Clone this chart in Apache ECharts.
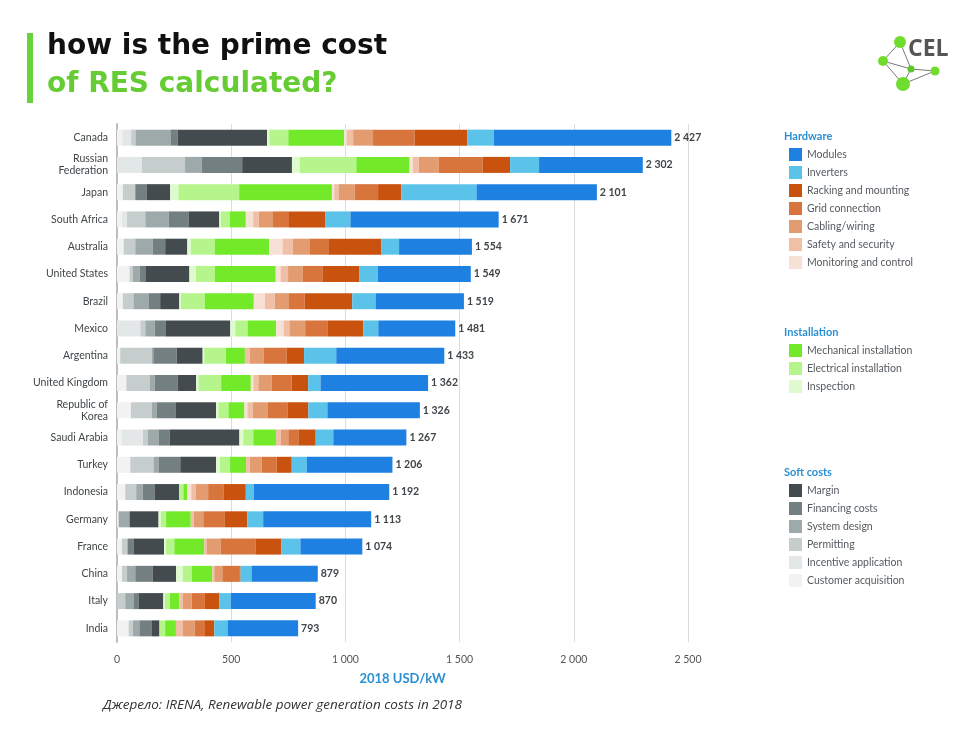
<!DOCTYPE html>
<html>
<head>
<meta charset="utf-8">
<script src="https://cdn.jsdelivr.net/npm/echarts@6/dist/echarts.min.js"></script>
<style>
html,body{margin:0;padding:0;background:#fff;}
#chart{width:980px;height:735px;}
</style>
</head>
<body>
<div id="chart"></div>
<script>
const categories = ['Canada','Russian\nFederation','Japan','South Africa','Australia','United States','Brazil','Mexico','Argentina','United Kingdom','Republic of\nKorea','Saudi Arabia','Turkey','Indonesia','Germany','France','China','Italy','India'];
const totals = [2427,2302,2101,1671,1554,1549,1519,1481,1433,1362,1326,1267,1206,1192,1113,1074,879,870,793];

// Soft costs
const customerAcquisition = [23,0,26,22,29,55,26,0,14,41,61,20,58,36,7,22,22,0,51];
const incentiveApplication = [39,109,0,22,0,0,0,102,0,0,0,94,0,0,0,0,0,0,0];
const permitting = [19,189,54,80,51,15,46,22,138,102,92,20,102,48,0,24,22,36,19];
const systemDesign = [153,73,0,102,77,29,66,41,7,22,22,48,22,28,48,0,36,36,28];
const financingCosts = [32,177,51,87,54,25,51,47,102,100,83,48,95,52,0,26,77,22,55];
const margin = [391,218,102,135,97,193,84,284,114,82,176,306,157,108,127,134,102,109,33];
// Installation
const inspection = [10,34,36,7,16,29,7,22,7,10,10,17,17,0,10,9,29,7,0];
const electricalInstallation = [83,248,266,39,105,83,105,54,95,99,44,44,44,19,23,36,39,22,25];
const mechanicalInstallation = [245,233,406,70,237,266,214,125,83,130,70,99,70,17,108,131,90,41,47];
// Hardware
const monitoringControl = [10,14,10,32,59,21,48,32,0,11,13,0,0,17,0,0,0,0,0];
const safetySecurity = [29,26,21,25,44,33,44,26,22,22,24,21,17,19,14,10,9,15,31];
const cablingWiring = [87,87,69,62,76,63,62,69,61,59,66,33,51,55,41,61,35,39,51];
const gridConnection = [182,192,102,70,80,87,69,97,99,87,87,44,66,69,92,153,77,58,42];
const rackingMounting = [230,121,102,160,233,163,208,157,77,72,90,76,66,96,100,114,3,62,44];
const inverters = [117,127,329,109,77,80,102,66,141,54,83,77,66,35,70,83,48,51,58];
const modules = [777,454,527,649,319,407,387,337,473,471,405,320,375,593,473,271,290,372,309];

const xTicks = [0,500,1000,1500,2000,2500];

const seriesDefs = [
  {name:'Customer acquisition', data:customerAcquisition, color:'#f2f2f2'},
  {name:'Incentive application', data:incentiveApplication, color:'#e4e7e7'},
  {name:'Permitting', data:permitting, color:'#c6cdcd'},
  {name:'System design', data:systemDesign, color:'#9ea9a9'},
  {name:'Financing costs', data:financingCosts, color:'#737f80'},
  {name:'Margin', data:margin, color:'#434b4e'},
  {name:'Inspection', data:inspection, color:'#e0fad0'},
  {name:'Electrical installation', data:electricalInstallation, color:'#b5f58b'},
  {name:'Mechanical installation', data:mechanicalInstallation, color:'#72ea2a'},
  {name:'Monitoring and control', data:monitoringControl, color:'#f7e1d7'},
  {name:'Safety and security', data:safetySecurity, color:'#efc0a6'},
  {name:'Cabling/wiring', data:cablingWiring, color:'#e39b70'},
  {name:'Grid connection', data:gridConnection, color:'#d8753d'},
  {name:'Racking and mounting', data:rackingMounting, color:'#c9530e'},
  {name:'Inverters', data:inverters, color:'#5bc3e9'},
  {name:'Modules', data:modules, color:'#1e80e1'}
];

const fmt = v => String(v).replace(/\B(?=(\d{3})+(?!\d))/g, ' ');
const FONT = 'Lato, "Open Sans", sans-serif';

const series = seriesDefs.map((d, i) => {
  const s = {
    name: d.name, type: 'bar', stack: 'total', data: d.data, barWidth: 16,
    itemStyle: {color: d.color}, emphasis: {disabled: true}, animation: false
  };
  if (i === seriesDefs.length - 1) {
    s.label = {
      show: true, position: 'right', distance: 3,
      formatter: p => fmt(totals[p.dataIndex]),
      color: '#3f4548', fontWeight: 'bold', fontSize: 10.5, fontFamily: FONT
    };
  }
  return s;
});

const legendBase = {
  orient: 'vertical', left: 784, itemWidth: 13, itemHeight: 13, itemGap: 5, icon: 'rect',
  selectedMode: false,
  textStyle: {color: '#555b60', fontSize: 10.5, fontFamily: FONT, padding: [0,0,0,0]}
};

const headerStyle = {fill: '#2b8fd3', font: 'bold 11px ' + FONT};
const TITLE_FONT = 'bold 28px "DejaVu Sans", sans-serif';

const chart = echarts.init(document.getElementById('chart'), null, {renderer: 'canvas'});
chart.setOption({
  backgroundColor: '#fff',
  animation: false,
  grid: {left: 117, right: 292, top: 124, bottom: 93, containLabel: false},
  xAxis: {
    type: 'value', min: 0, max: 2500, interval: 500,
    axisLine: {show: false}, axisTick: {show: false},
    splitLine: {lineStyle: {color: '#dcdcdc', width: 1}},
    axisLabel: {margin: 12, color: '#555', fontSize: 10.5, fontFamily: FONT,
      formatter: v => xTicks.includes(v) ? fmt(v) : ''},
    name: '2018 USD/kW', nameLocation: 'middle', nameGap: 30,
    nameTextStyle: {color: '#2b8fd3', fontWeight: 'bold', fontSize: 13, fontFamily: FONT}
  },
  yAxis: {
    type: 'category', data: categories, inverse: true,
    axisLine: {show: true, lineStyle: {color: '#bdbdbd', width: 2}},
    axisTick: {show: false},
    axisLabel: {margin: 9, color: '#3f4548', fontSize: 10.5, fontFamily: FONT, lineHeight: 12, align: 'right'}
  },
  legend: [
    Object.assign({}, legendBase, {top: 143, data: ['Modules','Inverters','Racking and mounting','Grid connection','Cabling/wiring','Safety and security','Monitoring and control']}),
    Object.assign({}, legendBase, {top: 339, data: ['Mechanical installation','Electrical installation','Inspection']}),
    Object.assign({}, legendBase, {top: 479, data: ['Margin','Financing costs','System design','Permitting','Incentive application','Customer acquisition']})
  ],
  series: series,
  graphic: [
    {type: 'rect', shape: {x: 27, y: 33, width: 6, height: 70}, style: {fill: '#66d43a'}},
    {type: 'text', left: 47, top: 33, style: {text: 'how is the prime cost', fill: '#111', font: TITLE_FONT}},
    {type: 'text', left: 47, top: 71, style: {text: 'of RES calculated?', fill: '#66cc33', font: TITLE_FONT}},
    {type: 'text', left: 784, top: 131, style: Object.assign({text: 'Hardware'}, headerStyle)},
    {type: 'text', left: 784, top: 327, style: Object.assign({text: 'Installation'}, headerStyle)},
    {type: 'text', left: 784, top: 467, style: Object.assign({text: 'Soft costs'}, headerStyle)},
    {type: 'text', left: 103, top: 698, style: {text: 'Джерело: IRENA, Renewable power generation costs in 2018', fill: '#333', font: 'italic 13.5px "Open Sans", sans-serif'}},
    {type: 'group', children: [
      {type: 'line', shape: {x1: 900, y1: 42, x2: 883, y2: 61}, style: {stroke: '#7a7a7a', lineWidth: 1}},
      {type: 'line', shape: {x1: 900, y1: 42, x2: 911, y2: 69}, style: {stroke: '#7a7a7a', lineWidth: 1}},
      {type: 'line', shape: {x1: 883, y1: 61, x2: 911, y2: 69}, style: {stroke: '#7a7a7a', lineWidth: 1}},
      {type: 'line', shape: {x1: 883, y1: 61, x2: 903, y2: 84}, style: {stroke: '#7a7a7a', lineWidth: 1}},
      {type: 'line', shape: {x1: 911, y1: 69, x2: 903, y2: 84}, style: {stroke: '#7a7a7a', lineWidth: 1}},
      {type: 'line', shape: {x1: 911, y1: 69, x2: 935, y2: 71}, style: {stroke: '#7a7a7a', lineWidth: 1}},
      {type: 'line', shape: {x1: 903, y1: 84, x2: 935, y2: 71}, style: {stroke: '#7a7a7a', lineWidth: 1}},
      {type: 'circle', shape: {cx: 900, cy: 42, r: 6}, style: {fill: '#6fdc2e'}},
      {type: 'circle', shape: {cx: 883, cy: 61, r: 5}, style: {fill: '#6fdc2e'}},
      {type: 'circle', shape: {cx: 911, cy: 69, r: 3.5}, style: {fill: '#5cc72a'}},
      {type: 'circle', shape: {cx: 935, cy: 71, r: 4.5}, style: {fill: '#6fdc2e'}},
      {type: 'circle', shape: {cx: 903, cy: 84, r: 7}, style: {fill: '#6fdc2e'}},
      {type: 'text', left: 908, top: 38, style: {text: 'CEL', fill: '#555', font: 'bold 23px "Open Sans", sans-serif'}}
    ]}
  ]
});
</script>
</body>
</html>
